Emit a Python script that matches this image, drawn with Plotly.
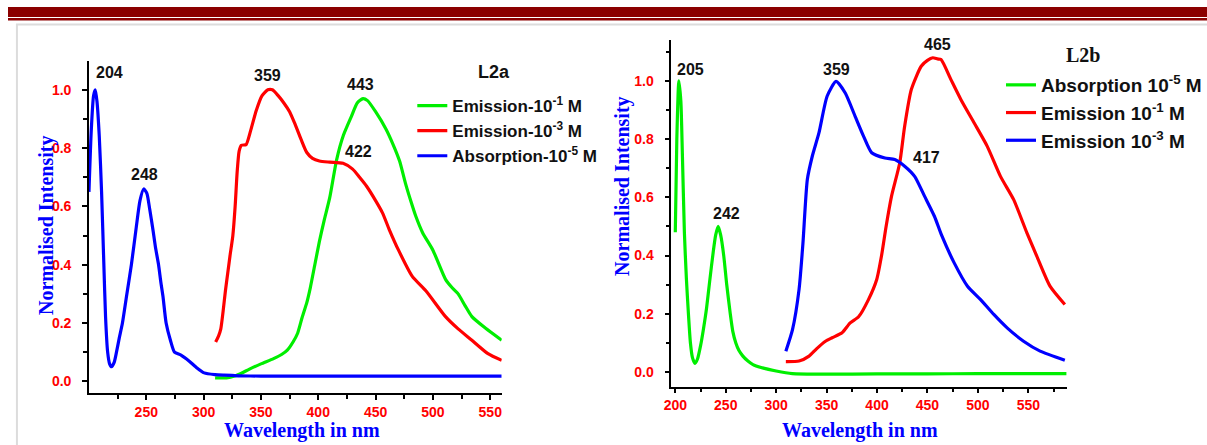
import plotly.graph_objects as go

# ---------------- data ----------------
# L2a (left panel)
l2a_abs_x = [200, 202, 204, 205.5, 207, 209, 211, 213, 214.5, 216.3, 218, 219.7, 222, 224, 226.5, 229.2, 232.7, 237, 241.3, 244.5, 247.7, 250.5, 253, 255.8, 258, 260.7, 262.7, 264.6, 267.3, 271.1, 274.6, 280.3, 287.5, 293.3, 300.5, 310, 318, 330, 350, 400, 450, 500, 560]
l2a_abs_y = [0.65, 0.86, 0.98, 1.0, 0.96, 0.84, 0.65, 0.40, 0.22, 0.10, 0.06, 0.05, 0.065, 0.10, 0.15, 0.20, 0.29, 0.40, 0.53, 0.62, 0.66, 0.645, 0.59, 0.52, 0.46, 0.40, 0.34, 0.29, 0.20, 0.14, 0.10, 0.09, 0.069, 0.049, 0.029, 0.023, 0.021, 0.019, 0.018, 0.018, 0.018, 0.018, 0.018]

l2a_em3_x = [310.5, 313, 315, 317, 319, 321, 323, 325.5, 327.5, 329.3, 331, 333, 337, 341, 346, 351, 356, 360, 365, 370, 375, 380, 385, 390, 395, 401, 410, 421.6, 430, 436, 442, 450, 456, 462, 470, 482, 494, 511, 522, 534, 548, 560]
l2a_em3_y = [0.135, 0.155, 0.18, 0.24, 0.31, 0.37, 0.43, 0.50, 0.60, 0.72, 0.79, 0.81, 0.812, 0.86, 0.93, 0.98, 1.0, 1.0, 0.98, 0.955, 0.925, 0.88, 0.83, 0.785, 0.765, 0.756, 0.752, 0.748, 0.728, 0.70, 0.67, 0.62, 0.578, 0.52, 0.45, 0.36, 0.31, 0.222, 0.18, 0.141, 0.095, 0.072]

l2a_em1_x = [310, 320, 327, 333, 340, 350, 361, 368, 373, 378, 382, 386, 390, 393, 397, 401, 405, 410, 416, 422, 429, 434, 439, 443, 450, 459, 465, 471, 476, 481, 485, 491, 500, 511, 517, 522, 528, 534, 546, 560]
l2a_em1_y = [0.012, 0.012, 0.018, 0.028, 0.042, 0.06, 0.078, 0.092, 0.107, 0.135, 0.165, 0.22, 0.27, 0.32, 0.40, 0.48, 0.55, 0.63, 0.76, 0.845, 0.91, 0.955, 0.97, 0.963, 0.925, 0.866, 0.815, 0.755, 0.68, 0.615, 0.567, 0.51, 0.45, 0.35, 0.32, 0.30, 0.26, 0.222, 0.182, 0.141]

# L2b (right panel)
l2b_abs_x = [200, 201.5, 203.5, 205.5, 207, 209, 211, 213, 215, 217, 219.5, 222, 225, 228, 231, 234, 237.5, 240, 242.5, 245, 248, 251, 254.5, 257, 260, 263, 267, 272, 277, 285, 300, 316, 350, 400, 450, 500, 550, 588]
l2b_abs_y = [0.48, 0.80, 1.0, 0.93, 0.75, 0.48, 0.32, 0.20, 0.10, 0.05, 0.03, 0.045, 0.09, 0.15, 0.22, 0.31, 0.41, 0.47, 0.50, 0.47, 0.40, 0.30, 0.20, 0.14, 0.10, 0.075, 0.055, 0.038, 0.026, 0.016, 0.004, -0.005, -0.007, -0.006, -0.006, -0.005, -0.005, -0.005]

l2b_em1_x = [309.6, 322.7, 332.6, 340, 348.9, 355.5, 365.3, 373.4, 381.7, 391.5, 399.7, 404.5, 409, 414.4, 422.5, 427.4, 434, 443.8, 450, 455.3, 460, 463.5, 473.3, 483.1, 496.2, 509.3, 522.4, 535.5, 548.6, 558.4, 571.5, 586.2]
l2b_em1_y = [0.036, 0.038, 0.055, 0.08, 0.106, 0.118, 0.135, 0.169, 0.19, 0.249, 0.318, 0.40, 0.50, 0.604, 0.718, 0.844, 0.97, 1.05, 1.07, 1.079, 1.075, 1.073, 1.004, 0.936, 0.856, 0.775, 0.672, 0.592, 0.478, 0.398, 0.295, 0.232]

l2b_em3_x = [309.6, 316.2, 322.7, 326.5, 330.9, 335.8, 342.4, 350.5, 359.4, 368.5, 378.3, 386.6, 394.7, 407.8, 417.6, 427.4, 437.3, 447.1, 456.9, 464, 476.5, 489.7, 502.7, 515.8, 529, 545.3, 561.7, 586.2]
l2b_em3_y = [0.072, 0.146, 0.284, 0.44, 0.661, 0.741, 0.821, 0.947, 0.998, 0.958, 0.878, 0.81, 0.753, 0.735, 0.73, 0.707, 0.672, 0.604, 0.535, 0.47, 0.375, 0.295, 0.249, 0.198, 0.152, 0.106, 0.072, 0.041]

# peak labels: (text, x, y)
l2a_peaks = [("204", 218.3, 1.058), ("248", 248.6, 0.708), ("359", 355.3, 1.049), ("443", 436.6, 1.017), ("422", 434.9, 0.79)]
l2b_peaks = [("205", 215.3, 1.038), ("242", 250.7, 0.543), ("359", 359.7, 1.038), ("465", 459.5, 1.124), ("417", 448.7, 0.735)]

x_ticks_left = [250, 300, 350, 400, 450, 500, 550]
x_ticks_right = [200, 250, 300, 350, 400, 450, 500, 550]
y_ticks = [0.0, 0.2, 0.4, 0.6, 0.8, 1.0]

# --------------- figure ---------------
GREEN, RED, BLUE = "#00ee00", "#ff0000", "#0000ff"
SANS = "Liberation Sans"
SERIF = "Liberation Serif"
W, H = 1207, 445

fig = go.Figure()
lw = 3.2
line_shape = dict(shape="spline", smoothing=0.6, width=lw)

fig.add_trace(go.Scatter(x=l2a_em1_x, y=l2a_em1_y, mode="lines", name="Emission-10<sup>-1</sup> M",
                         line=dict(color=GREEN, **line_shape), xaxis="x", yaxis="y", legend="legend", legendrank=1))
fig.add_trace(go.Scatter(x=l2a_em3_x, y=l2a_em3_y, mode="lines", name="Emission-10<sup>-3</sup> M",
                         line=dict(color=RED, **line_shape), xaxis="x", yaxis="y", legend="legend", legendrank=2))
fig.add_trace(go.Scatter(x=l2a_abs_x, y=l2a_abs_y, mode="lines", name="Absorption-10<sup>-5</sup> M",
                         line=dict(color=BLUE, **line_shape), xaxis="x", yaxis="y", legend="legend", legendrank=3))

fig.add_trace(go.Scatter(x=l2b_abs_x, y=l2b_abs_y, mode="lines", name="Absorption 10<sup>-5</sup> M",
                         line=dict(color=GREEN, **line_shape), xaxis="x2", yaxis="y2", legend="legend2", legendrank=1))
fig.add_trace(go.Scatter(x=l2b_em1_x, y=l2b_em1_y, mode="lines", name="Emission 10<sup>-1</sup> M",
                         line=dict(color=RED, **line_shape), xaxis="x2", yaxis="y2", legend="legend2", legendrank=2))
fig.add_trace(go.Scatter(x=l2b_em3_x, y=l2b_em3_y, mode="lines", name="Emission 10<sup>-3</sup> M",
                         line=dict(color=BLUE, **line_shape), xaxis="x2", yaxis="y2", legend="legend2", legendrank=3))


def px_x(p):
    return p / W


def px_y(p):
    return (H - p) / H


def bold(vals, fmt):
    return ["<b>" + fmt.format(v) + "</b>" for v in vals]


tickfont = dict(family=SANS, size=14, color=RED)
common_axis = dict(showline=True, linecolor="black", linewidth=1.5, ticks="outside", ticklen=5,
                   tickwidth=1.5, tickcolor="black", showgrid=False, zeroline=False, tickfont=tickfont,
                   mirror=False)

fig.update_layout(
    width=W, height=H, margin=dict(l=0, r=0, t=0, b=0),
    paper_bgcolor="white", plot_bgcolor="white",
    xaxis=dict(domain=[px_x(81.5), px_x(497)], range=[200, 560], anchor="y",
               tickvals=x_ticks_left, ticktext=bold(x_ticks_left, "{:d}"),
               minor=dict(tickvals=[225, 275, 325, 375, 425, 475, 525], ticks="outside",
                          ticklen=4, tickwidth=1.5, tickcolor="black"),
               **common_axis),
    yaxis=dict(domain=[px_y(393), px_y(60.7)], range=[-0.04, 1.1], anchor="x",
               tickvals=y_ticks, ticktext=bold(y_ticks, "{:.1f}"), ticklabelstandoff=8,
               minor=dict(tickvals=[0.1, 0.3, 0.5, 0.7, 0.9], ticks="outside", ticklen=4, tickwidth=1.5,
                          tickcolor="black"),
               **common_axis),
    xaxis2=dict(domain=[px_x(667.7), px_x(1065.7)], range=[196, 588], anchor="y2",
                tickvals=x_ticks_right, ticktext=bold(x_ticks_right, "{:d}"),
                minor=dict(tickvals=[225, 275, 325, 375, 425, 475, 525, 575],
                           ticks="outside", ticklen=4, tickwidth=1.5, tickcolor="black"),
                **common_axis),
    yaxis2=dict(domain=[px_y(386.7), px_y(40)], range=[-0.05, 1.14], anchor="x2",
                tickvals=y_ticks, ticktext=bold(y_ticks, "{:.1f}"), ticklabelstandoff=8,
                minor=dict(tickvals=[0.1, 0.3, 0.5, 0.7, 0.9, 1.1], ticks="outside", ticklen=4, tickwidth=1.5,
                           tickcolor="black"),
                **common_axis),
    legend=dict(x=px_x(407), y=px_y(88), xanchor="left", yanchor="top", bgcolor="rgba(0,0,0,0)",
                font=dict(family=SANS, size=17, color="#111111", weight="bold"), traceorder="normal",
                itemwidth=30),
    legend2=dict(x=px_x(1000), y=px_y(66), xanchor="left", yanchor="top", bgcolor="rgba(0,0,0,0)",
                 font=dict(family=SANS, size=19, color="#111111", weight="bold"), traceorder="normal",
                 itemwidth=30),
)

annotations = []
peak_font = dict(family=SANS, size=16, color="#111111", weight="bold")
for t, x, y in l2a_peaks:
    annotations.append(dict(text=t, x=x, y=y, xref="x", yref="y", showarrow=False,
                            xanchor="center", yanchor="middle", font=peak_font))
for t, x, y in l2b_peaks:
    annotations.append(dict(text=t, x=x, y=y, xref="x2", yref="y2", showarrow=False,
                            xanchor="center", yanchor="middle", font=peak_font))

# panel titles
annotations.append(dict(text="L2a", x=px_x(489), y=px_y(72), xref="paper", yref="paper", showarrow=False,
                        xanchor="center", yanchor="middle",
                        font=dict(family=SANS, size=18, color="#111111", weight="bold")))
annotations.append(dict(text="L2b", x=px_x(1081.7), y=px_y(55), xref="paper", yref="paper", showarrow=False,
                        xanchor="center", yanchor="middle",
                        font=dict(family=SERIF, size=20, color="#111111", weight="bold")))

# axis titles
title_font = dict(family=SERIF, size=20, color=BLUE, weight="bold")
for tx, xp, yp, ang in [("Wavelength in nm", 295.5, 430, 0), ("Wavelength in nm", 858, 430, 0),
                        ("Normalised Intensity", 38.3, 226, -90), ("Normalised Intensity", 618.3, 186.7, -90)]:
    annotations.append(dict(text=tx, x=px_x(xp), y=px_y(yp), xref="paper", yref="paper", showarrow=False,
                            xanchor="center", yanchor="middle", textangle=ang, font=title_font))
fig.update_layout(annotations=annotations)

# page decoration: header bands and light frame
shapes = [
    dict(type="rect", xref="paper", yref="paper", x0=0, x1=1, y0=px_y(17), y1=px_y(7),
         fillcolor="#8b0000", line=dict(width=0), layer="below"),
    dict(type="rect", xref="paper", yref="paper", x0=0, x1=1, y0=px_y(20.5), y1=px_y(18),
         fillcolor="#8b0000", line=dict(width=0), layer="below"),
    dict(type="line", xref="paper", yref="paper", x0=px_x(8), x1=1, y0=px_y(24.5), y1=px_y(24.5),
         line=dict(color="#dcdcdc", width=2), layer="below"),
    dict(type="line", xref="paper", yref="paper", x0=px_x(9), x1=px_x(9), y0=0, y1=px_y(24.5),
         line=dict(color="#dcdcdc", width=2), layer="below"),
]
fig.update_layout(shapes=shapes)

fig.write_html("out.html")
